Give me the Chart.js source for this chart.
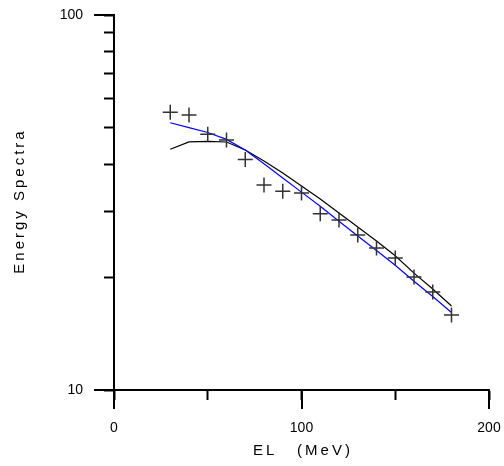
<!DOCTYPE html>
<html>
<head>
<meta charset="utf-8">
<script src="https://cdn.jsdelivr.net/npm/chart.js@4/dist/chart.umd.min.js"></script>
<style>
  html, body { margin: 0; padding: 0; background: #fff; }
  #wrap { width: 504px; height: 466px; }
</style>
</head>
<body>
<div id="wrap"><canvas id="c" width="504" height="466"></canvas></div>
<script>
// ---- data ----
const energies   = [30, 40, 50, 60, 70, 80, 90, 100, 110, 120, 130, 140, 150, 160, 170, 180];
const measured   = [55.0, 54.1, 48.1, 46.4, 41.2, 35.2, 33.9, 33.5, 29.5, 28.4, 25.9, 23.9, 22.5, 20.0, 18.25, 15.85];
const calcBlack  = [43.85, 45.9, 46.0, 45.85, 43.65, 40.8, 37.9, 35.0, 32.3, 29.65, 27.2, 24.96, 22.8, 20.5, 18.6, 16.75];
const calcBlue   = [51.6, 50.1, 48.6, 46.6, 43.65, 40.1, 36.75, 33.7, 30.9, 28.2, 25.75, 23.55, 21.5, 19.5, 17.75, 16.1];

const xTicks      = [0, 50, 100, 150, 200];
const xTickLabels = ['0', '', '100', '', '200'];
const xMajor      = [0, 100, 200];
const yTicks      = [10, 20, 30, 40, 50, 60, 70, 80, 90, 100];
const yMajor      = [10, 100];

const TS = '\u2009';
const xTitle = ['E','L'].join(TS) + TS + '    ' + TS + ['(', 'M', 'e', 'V', ')'].join(TS);
const yTitle = ['E','n','e','r','g','y'].join(TS) + TS + ' ' + TS + ['S','p','e','c','t','r','a'].join(TS);

const pts = (xs, ys) => xs.map((x, i) => ({ x: x, y: ys[i] }));

const bigTicks = {
  id: 'bigTicks',
  afterDraw(chart) {
    const { ctx, scales: { x, y } } = chart;
    ctx.save();
    ctx.strokeStyle = '#000';
    ctx.lineWidth = 2;
    ctx.beginPath();
    xMajor.forEach(v => {
      const px = Math.round(x.getPixelForValue(v));
      ctx.moveTo(px, y.bottom);
      ctx.lineTo(px, y.bottom + 19);
    });
    yMajor.forEach(v => {
      const py = Math.round(y.getPixelForValue(v));
      ctx.moveTo(x.left, py);
      ctx.lineTo(x.left - 20, py);
    });
    ctx.stroke();
    ctx.restore();
  }
};

const FONT = "'Liberation Sans', Arial, sans-serif";

new Chart(document.getElementById('c'), {
  type: 'scatter',
  data: {
    datasets: [
      {
        label: 'measured',
        data: pts(energies, measured),
        showLine: false,
        pointStyle: 'cross',
        pointRadius: 7.5,
        pointBorderWidth: 1.5,
        borderColor: '#333',
        backgroundColor: '#333',
        order: 1
      },
      {
        label: 'calc black',
        data: pts(energies, calcBlack),
        showLine: true,
        borderColor: '#000',
        borderWidth: 1.2,
        pointRadius: 0,
        tension: 0,
        order: 3
      },
      {
        label: 'calc blue',
        data: pts(energies, calcBlue),
        showLine: true,
        borderColor: '#0000ff',
        borderWidth: 1.2,
        pointRadius: 0,
        tension: 0,
        order: 2
      }
    ]
  },
  options: {
    responsive: false,
    devicePixelRatio: 1,
    animation: false,
    layout: { padding: { top: 15, right: 15, left: 0, bottom: 0 } },
    plugins: { legend: { display: false }, tooltip: { enabled: false } },
    scales: {
      x: {
        type: 'linear',
        min: 0, max: 200,
        afterBuildTicks: s => { s.ticks = xTicks.map(v => ({ value: v })); },
        afterFit: s => { s.height = 76; s.paddingLeft = 0; s.paddingRight = 0; },
        ticks: {
          autoSkip: false,
          maxRotation: 0,
          padding: 20,
          color: '#000',
          font: { family: FONT, size: 14 },
          callback: (v) => { const i = xTicks.indexOf(v); return i >= 0 ? xTickLabels[i] : ''; }
        },
        grid: { display: true, drawOnChartArea: false, drawTicks: true, tickLength: 10, tickWidth: 2, tickColor: '#000' },
        border: { display: true, color: '#000', width: 2 },
        title: {
          display: true,
          text: xTitle,
          color: '#000',
          font: { family: FONT, size: 15 },
          padding: { top: 0, bottom: 6 }
        }
      },
      y: {
        type: 'logarithmic',
        min: 10, max: 100,
        afterBuildTicks: s => { s.ticks = yTicks.map(v => ({ value: v, major: yMajor.includes(v) })); },
        afterFit: s => { s.width = 114; s.paddingTop = 0; s.paddingBottom = 0; },
        ticks: {
          autoSkip: false,
          padding: 21,
          color: '#000',
          font: { family: FONT, size: 14 },
          callback: (v) => (yMajor.includes(v) ? String(v) : '')
        },
        grid: { display: true, drawOnChartArea: false, drawTicks: true, tickLength: 10, tickWidth: 2, tickColor: '#000' },
        border: { display: true, color: '#000', width: 2 },
        title: {
          display: true,
          text: yTitle,
          color: '#000',
          font: { family: FONT, size: 15 },
          padding: { top: 11, bottom: 0 }
        }
      }
    }
  },
  plugins: [bigTicks]
});
</script>
</body>
</html>
